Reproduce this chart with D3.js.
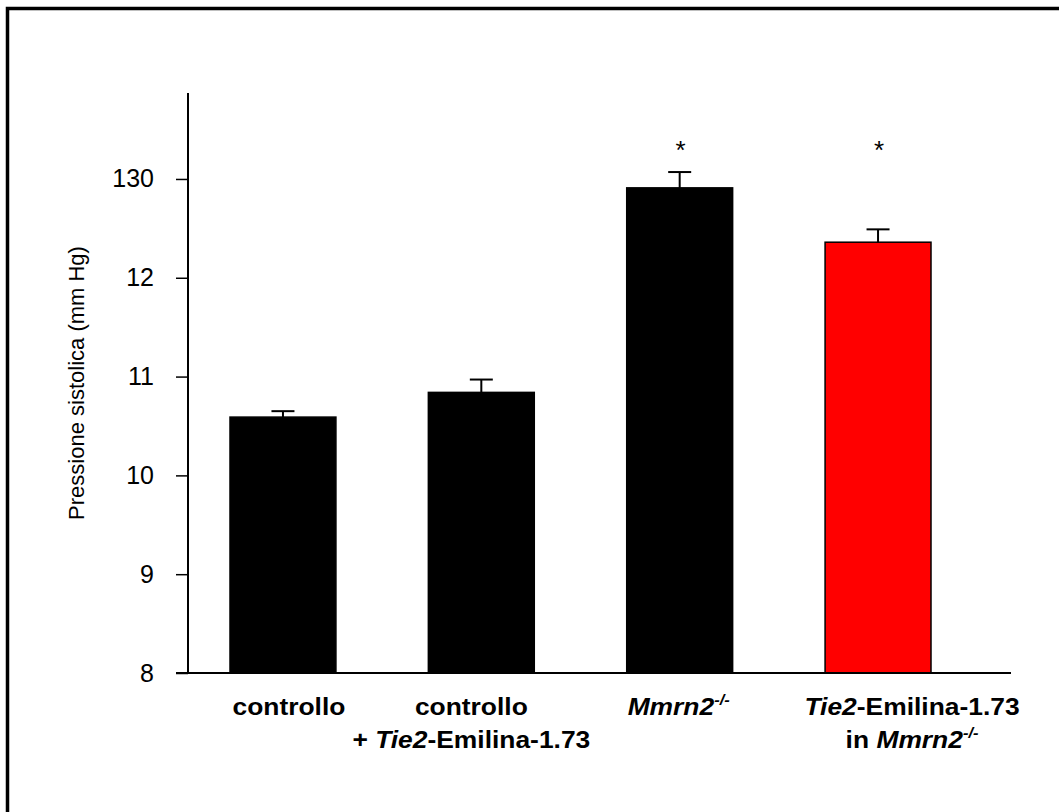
<!DOCTYPE html>
<html>
<head>
<meta charset="utf-8">
<script src="https://cdn.jsdelivr.net/npm/d3@7"></script>
<style>
  html, body { margin: 0; padding: 0; background: #fff; }
  svg { display: block; }
  text { font-family: Arial, "Liberation Sans", sans-serif; fill: #000; }
</style>
</head>
<body>
<svg id="chart" width="1059" height="812"></svg>
<script>
// Systolic pressure per group (mm Hg), mean and upper error bar
const groups = ["controllo", "controllo + Tie2", "Mmrn2", "Tie2 in Mmrn2"];
const means = [105.9, 108.4, 129.1, 123.6];
const errors = [0.6, 1.3, 1.6, 1.3];
const barColors = ["#000000", "#000000", "#000000", "#ff0000"];
const significant = [false, false, true, true];
const tickValues = [80, 90, 100, 110, 120, 130];
const tickLabels = ["8", "9", "10", "11", "12", "130"];

// Category labels: lines of [text, italic, superscript] runs
const categoryLabels = [
  [[["controllo", false, false]]],
  [[["controllo", false, false]],
   [["+ ", false, false], ["Tie2", true, false], ["-Emilina-1.73", false, false]]],
  [[["Mmrn2", true, false], ["-/-", true, true]]],
  [[["Tie2", true, false], ["-Emilina-1.73", false, false]],
   [["in ", false, false], ["Mmrn2", true, false], ["-/-", true, true]]]
];
// horizontal nudge of each label block from its bar centre
const labelShift = [6, -10, -1, 34];

const svg = d3.select("#chart");

// Outer frame (right and bottom edges fall outside the canvas)
svg.append("rect")
  .attr("x", 7.5).attr("y", 8.5)
  .attr("width", 1100).attr("height", 900)
  .attr("fill", "none").attr("stroke", "#000").attr("stroke-width", 3.5);

const x0 = 188, yBase = 673;
const y = d3.scaleLinear().domain([80, 138.7]).range([yBase, 93]);
const x = d3.scaleBand().domain(groups).range([230, 931]).paddingInner(0.466).paddingOuter(0);

// Bars
svg.selectAll("rect.bar").data(groups).enter().append("rect")
  .attr("class", "bar")
  .attr("x", d => x(d))
  .attr("y", (d, i) => y(means[i]))
  .attr("width", x.bandwidth())
  .attr("height", (d, i) => y(80) - y(means[i]))
  .attr("fill", (d, i) => barColors[i])
  .attr("stroke", "#000").attr("stroke-width", 1.5);

// Upper error bars and significance marks
const capHalf = 11.5;
groups.forEach((g, i) => {
  const cx = x(g) + x.bandwidth() / 2;
  const top = y(means[i] + errors[i]);
  svg.append("line")
    .attr("x1", cx).attr("x2", cx)
    .attr("y1", y(means[i])).attr("y2", top)
    .attr("stroke", "#000").attr("stroke-width", 2);
  svg.append("line")
    .attr("x1", cx - capHalf).attr("x2", cx + capHalf)
    .attr("y1", top).attr("y2", top)
    .attr("stroke", "#000").attr("stroke-width", 2);
  if (significant[i]) {
    svg.append("text")
      .attr("x", cx + 1).attr("y", 159)
      .attr("text-anchor", "middle")
      .attr("font-size", 26)
      .text("*");
  }
});

// Y axis
const yAxis = d3.axisLeft(y).tickValues(tickValues)
  .tickFormat((d, i) => tickLabels[i]).tickSize(12).tickPadding(22);
const gy = svg.append("g").attr("transform", `translate(${x0},0)`).call(yAxis);
gy.select(".domain").attr("d", `M0,${y.range()[1]}V${yBase}`).attr("stroke-width", 2);
gy.selectAll(".tick line").attr("stroke-width", 1.5);
gy.selectAll(".tick text")
  .attr("font-family", "Arial, 'Liberation Sans', sans-serif")
  .attr("font-size", 25).attr("fill", "#000");

// X axis baseline
svg.append("line")
  .attr("x1", x0 - 12).attr("x2", 1011)
  .attr("y1", yBase).attr("y2", yBase)
  .attr("stroke", "#000").attr("stroke-width", 2);

// Y axis title
svg.append("text")
  .attr("transform", "translate(84,383) rotate(-90)")
  .attr("text-anchor", "middle")
  .attr("font-size", 22)
  .text("Pressione sistolica (mm Hg)");

// Category labels
categoryLabels.forEach((lines, i) => {
  const cx = x(groups[i]) + x.bandwidth() / 2 + labelShift[i];
  lines.forEach((runs, li) => {
    const t = svg.append("g")
      .attr("transform", `translate(${cx},${715 + li * 32.5}) scale(1.1,1)`)
      .append("text")
      .attr("text-anchor", "middle")
      .attr("font-size", 24)
      .attr("font-weight", "bold");
    runs.forEach(([txt, it, sup]) => {
      const s = t.append("tspan").text(txt)
        .attr("font-style", it ? "italic" : "normal");
      if (sup) s.attr("font-size", 15).attr("dy", -10);
    });
  });
});
</script>
</body>
</html>
